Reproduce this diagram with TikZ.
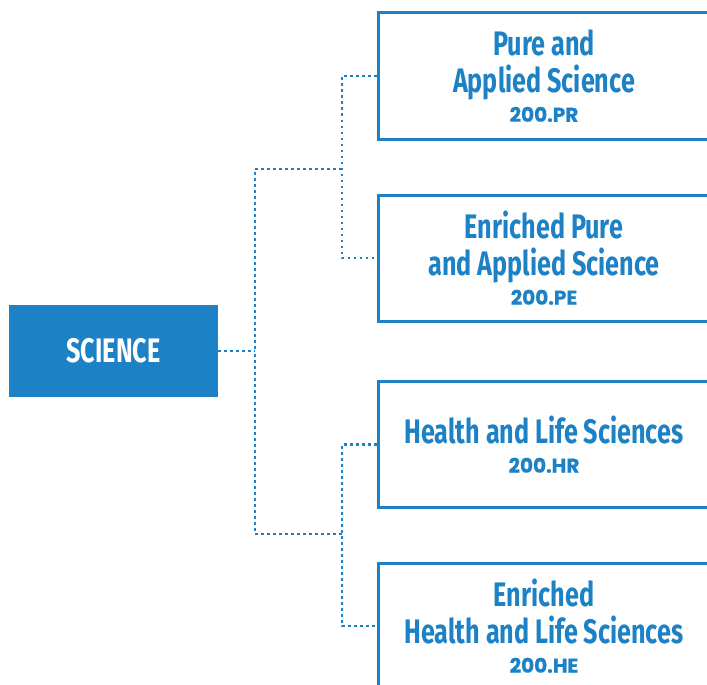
\documentclass[tikz,border=0pt]{standalone}
\usepackage{fontspec}
\newfontfamily\headfont{Fira Sans}[FakeStretch=0.74]
\newfontfamily\codefont{Poppins}[FakeBold=0.6]
\definecolor{sciblue}{HTML}{1C81C5}
\newcommand{\coursecode}[1]{\\[-8pt]{\codefont\fontsize{20}{24}\selectfont #1}}
\begin{document}
\begin{tikzpicture}[x=1pt,y=-1pt]
	\tikzset{course/.style = {shape=rectangle, draw=sciblue, line width=3pt, minimum width=332pt, minimum height=126pt, inner sep=0pt, align=center, text=sciblue, font=\headfont\bfseries\fontsize{34}{37}\selectfont, execute at begin node=\rule{0pt}{31pt}}}
	\tikzset{link/.style = {draw=sciblue, line width=2.7pt, dash pattern=on 2.7pt off 3.3pt}}

	\useasboundingbox (0,0) rectangle (707,685);

	\node[shape=rectangle, fill=sciblue, minimum width=209pt, minimum height=92pt, text=white, font=\headfont\bfseries\fontsize{34}{37}\selectfont] (SCI) at (113.5,351) {SCIENCE};

	\node[course] (PR) at (544,76) {Pure and\\Applied Science\coursecode{200.PR}};
	\node[course] (PE) at (544,258) {Enriched Pure\\and Applied Science\coursecode{200.PE}};
	\node[course] (HR) at (544,444.5) {Health and Life Sciences\coursecode{200.HR}};
	\node[course] (HE) at (544,626) {Enriched\\Health and Life Sciences\coursecode{200.HE}};

	\coordinate (T) at (255,351);
	\coordinate (J_1) at (342,169);
	\coordinate (J_2) at (342,534);

	%links
	\draw[link] (SCI.east) -- (T);
	\draw[link] (J_1) -| (T);
	\draw[link] (J_2) -| (T);
	\draw[link] (PR.west) -| (J_1) |- (PE.west);
	\draw[link] (HR.west) -| (J_2) |- (HE.west);

\end{tikzpicture}
\end{document}
